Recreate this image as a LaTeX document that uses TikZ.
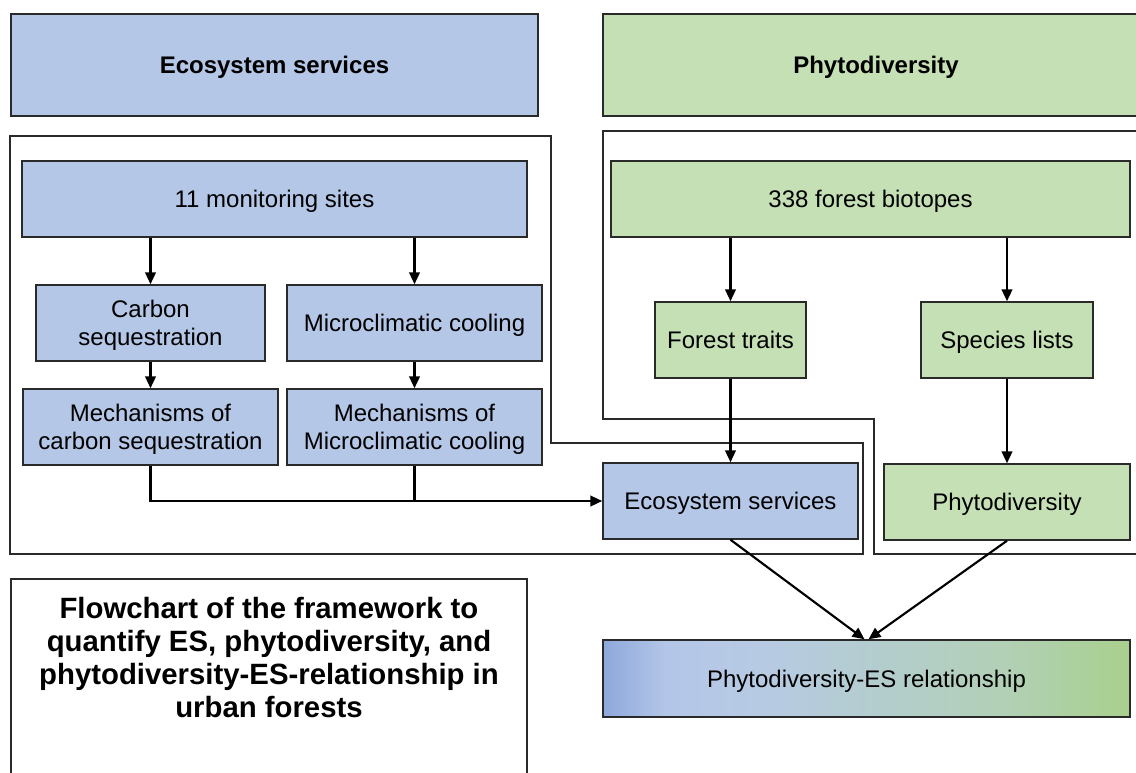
\documentclass[tikz,border=0pt]{standalone}
\usepackage{fontspec}
\setmainfont{Liberation Sans}
\usetikzlibrary{arrows.meta}

% palette
\definecolor{esblue}{HTML}{B4C7E7}
\definecolor{pdgreen}{HTML}{C5E0B4}
\definecolor{edge}{HTML}{2A2A2A}
\definecolor{gA}{HTML}{8DA8DB}
\definecolor{gB}{HTML}{B4C6E8}
\definecolor{gC}{HTML}{B7CAE3}
\definecolor{gD}{HTML}{B3CDCC}
\definecolor{gE}{HTML}{B2D0B6}
\definecolor{gF}{HTML}{A8D08D}

% blue-to-green blend for the relationship box (inner 25bp..75bp span the box)
\pgfdeclarehorizontalshading{esgrad}{100bp}{%
  color(0bp)=(gA); color(25bp)=(gA); color(31bp)=(gB); color(40bp)=(gC);
  color(52bp)=(gD); color(63bp)=(gE); color(75bp)=(gF); color(100bp)=(gF)}

\tikzset{
  % area={x1}{y1}{x2}{y2}: box spanning the given corners (pixel grid)
  area/.style n args={4}{minimum width={(#3-#1)*0.75pt}, minimum height={(#4-#2)*0.75pt},
    at={({(#1+#3)/2},{(#2+#4)/2})}},
  box/.style={draw=edge, line width=1.1pt, inner sep=0pt, align=center, text depth=0pt},
  bbox/.style={box, fill=esblue},
  gbox/.style={box, fill=pdgreen},
  head/.style={font=\fontsize{18}{21}\selectfont\bfseries},
  arr/.style={-{Triangle[length=9pt,width=8pt]}, line width=1.6pt, black},
  link/.style={line width=1.6pt, black},
  frame/.style={draw=edge, line width=0.8pt},
}

\begin{document}
\begin{tikzpicture}[x=0.75pt, y=-0.75pt, font=\fontsize{18}{21}\selectfont]
\useasboundingbox (0,0) rectangle (1136,772);
\clip (0,0) rectangle (1136,772);

% column headers
\node[bbox, head, area={11}{14}{538}{116}] (hes) {Ecosystem services};
\node[gbox, head, area={603}{14}{1149}{116}] (hpd) {Phytodiversity};

% group frames
\draw[frame] (10,136) -- (551,136) -- (551,443) -- (863,443) -- (863,554) -- (10,554) -- cycle;
\draw[frame] (1150,131) -- (603,131) -- (603,419) -- (874,419) -- (874,554) -- (1150,554);

% ecosystem-service branch
\node[bbox, area={22}{161}{527}{237}] (sites) {11 monitoring sites};
\node[bbox, area={36}{285}{265}{361}] (carbon) {Carbon\\sequestration};
\node[bbox, area={287}{285}{542}{361}] (micro) {Microclimatic cooling};
\node[bbox, area={23}{389}{278}{465}] (mcarbon) {Mechanisms of\\carbon sequestration};
\node[bbox, area={287}{389}{542}{465}] (mmicro) {Mechanisms of\\Microclimatic cooling};

% phytodiversity branch
\node[gbox, area={611}{161}{1130}{237}] (biotopes) {338 forest biotopes};
\node[gbox, area={655}{302}{806}{378}] (traits) {Forest traits};
\node[gbox, area={921}{302}{1093}{378}] (species) {Species lists};

% results
\node[bbox, area={603}{463}{858}{539}] (esl) {Ecosystem services};
\node[gbox, area={884}{464}{1130}{540}] (pdl) {Phytodiversity};
\node[box, shade, shading=esgrad, area={603}{640}{1130}{717}] (rel) {Phytodiversity-ES relationship};

% title panel
\node[frame, inner sep=0pt, area={11}{579}{527}{800}] (capbox) {};
\node[font=\fontsize{22}{24.75}\selectfont\bfseries, align=center] (cap) at (269,658)
  {Flowchart of the framework to\\quantify ES, phytodiversity, and\\phytodiversity-ES-relationship in\\urban forests};

% connectors
\draw[arr] (sites.south -| carbon.north) -- (carbon.north);
\draw[arr] (sites.south -| micro.north) -- (micro.north);
\draw[arr] (carbon.south) -- (mcarbon.north);
\draw[arr] (micro.south) -- (mmicro.north);
\draw[arr] (mcarbon.south) |- (esl.west);
\draw[link] (mmicro.south) -- (mmicro.south |- esl.west);

\draw[arr] (biotopes.south -| traits.north) -- (traits.north);
\draw[arr] (biotopes.south -| species.north) -- (species.north);
\draw[arr] (traits.south) -- (esl.north);
\draw[arr] (species.south) -- (pdl.north);

\draw[arr] (esl.south) -- ([xshift=-1.5pt]rel.north);
\draw[arr] (pdl.south) -- ([xshift=1.5pt]rel.north);
\end{tikzpicture}
\end{document}
